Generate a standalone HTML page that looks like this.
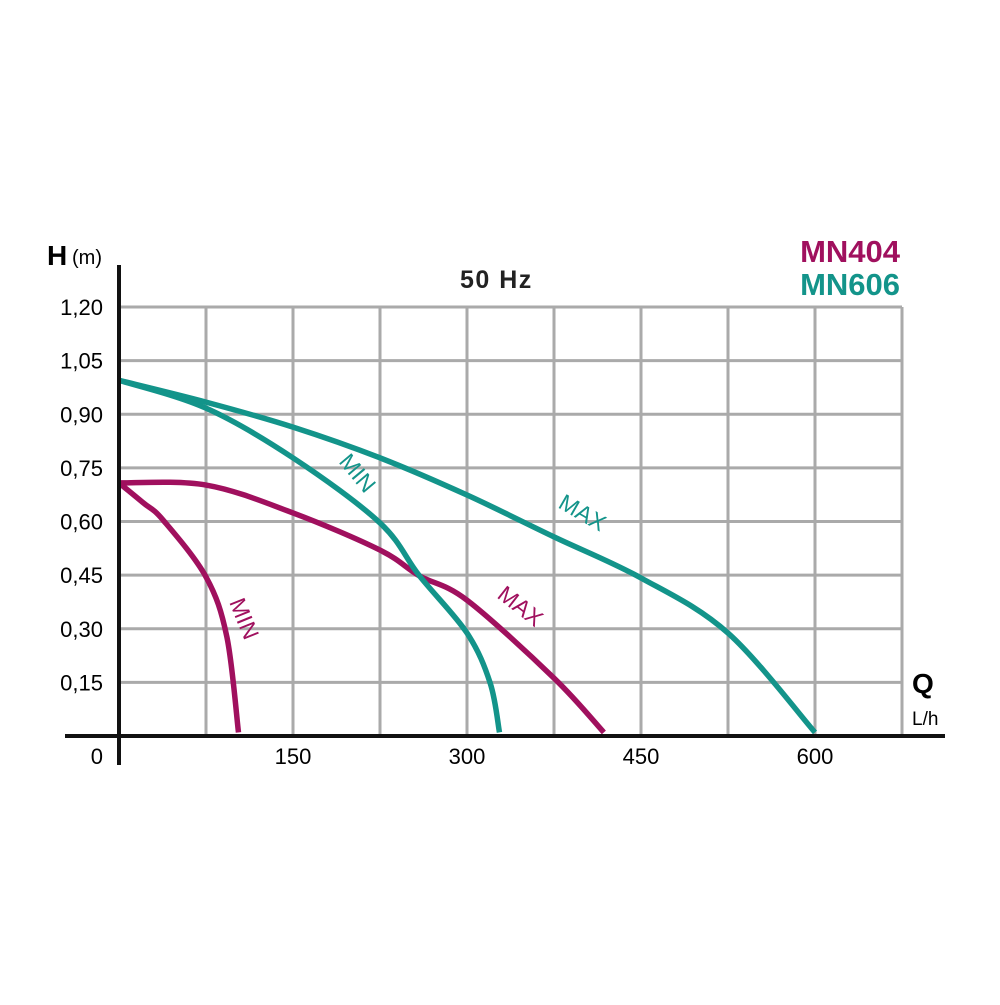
<!DOCTYPE html>
<html><head><meta charset="utf-8"><style>
body{margin:0;background:#fff}
svg text{font-family:"Liberation Sans",sans-serif}
</style></head><body>
<svg id="chart" width="1000" height="1000" viewBox="0 0 1000 1000">
<g id="grid"></g>
<g id="curves"></g>
<line x1="119" y1="265" x2="119" y2="765" stroke="#111" stroke-width="4"/>
<line x1="65" y1="736" x2="945" y2="736" stroke="#111" stroke-width="4"/>
<g id="ticks"></g>
<text x="47" y="265" font-size="28" font-weight="bold">H</text>
<text x="72" y="264" font-size="20">(m)</text>
<text x="912" y="693" font-size="28" font-weight="bold">Q</text>
<text x="912" y="725" font-size="19">L/h</text>
<text x="460" y="288" font-size="25" font-weight="bold" letter-spacing="1.5" fill="#222">50 Hz</text>
<text x="900" y="262" font-size="31" font-weight="bold" fill="#a0105e" text-anchor="end">MN404</text>
<text x="900" y="295" font-size="31" font-weight="bold" fill="#13948a" text-anchor="end">MN606</text>
<text x="0" y="0" font-size="23" fill="#13948a" transform="translate(338,462) rotate(50)">MIN</text>
<text x="0" y="0" font-size="23" fill="#13948a" transform="translate(557,507) rotate(30)">MAX</text>
<text x="0" y="0" font-size="23" fill="#a0105e" transform="translate(229,602) rotate(68)">MIN</text>
<text x="0" y="0" font-size="23" fill="#a0105e" transform="translate(496,597) rotate(38)">MAX</text>
</svg>
<script>
const xTicks=[150,300,450,600];
const yTicks=[0.15,0.30,0.45,0.60,0.75,0.90,1.05,1.20];
const q606max=[0,75,150,225,300,375,450,525,600];
const h606max=[0.995,0.934,0.864,0.778,0.674,0.557,0.442,0.288,0.01];
const q606min=[0,75,150,225,259,300,320,328];
const h606min=[0.995,0.917,0.778,0.596,0.448,0.288,0.148,0.01];
const q404max=[0,75,150,225,259,300,375,418];
const h404max=[0.708,0.702,0.624,0.52,0.448,0.38,0.162,0.01];
const q404min=[0,21,38,75,93,103];
const h404min=[0.708,0.652,0.604,0.445,0.277,0.01];
const X=q=>119+q*87/75, Y=h=>736-h*357.5;
const NS="http://www.w3.org/2000/svg";
const grid=document.getElementById('grid'),ticks=document.getElementById('ticks'),cv=document.getElementById('curves');
for(let i=1;i<=9;i++){const x=X(i*75);const l=document.createElementNS(NS,'line');
l.setAttribute('x1',x);l.setAttribute('x2',x);l.setAttribute('y1',Y(1.2));l.setAttribute('y2',736);
l.setAttribute('stroke','#aaa');l.setAttribute('stroke-width','3');


grid.appendChild(l);}
yTicks.forEach(h=>{const l=document.createElementNS(NS,'line');
l.setAttribute('x1',119);l.setAttribute('x2',X(675));l.setAttribute('y1',Y(h));l.setAttribute('y2',Y(h));
l.setAttribute('stroke','#aaa');l.setAttribute('stroke-width','3');


grid.appendChild(l);
const t=document.createElementNS(NS,'text');t.setAttribute('x',103);t.setAttribute('y',Y(h)+8);
t.setAttribute('text-anchor','end');t.setAttribute('font-size','22');t.textContent=h.toFixed(2).replace('.',',');


ticks.appendChild(t);});
xTicks.forEach(q=>{const t=document.createElementNS(NS,'text');t.setAttribute('x',X(q));t.setAttribute('y',764);
t.setAttribute('text-anchor','middle');t.setAttribute('font-size','22');t.textContent=q;


ticks.appendChild(t);});
const z=document.createElementNS(NS,'text');z.setAttribute('x',103);z.setAttribute('y',764);z.setAttribute('text-anchor','end');z.setAttribute('font-size','22');z.textContent='0';


ticks.appendChild(z);
function path(qs,hs){const p=qs.map((q,i)=>[X(q),Y(hs[i])]);let d='M'+p[0];
for(let i=0;i<p.length-1;i++){const a=p[i-1]||p[i],b=p[i],c=p[i+1],e=p[i+2]||c;
d+=' C'+(b[0]+(c[0]-a[0])/6)+','+(b[1]+(c[1]-a[1])/6)+' '+(c[0]-(e[0]-b[0])/6)+','+(c[1]-(e[1]-b[1])/6)+' '+c[0]+','+c[1];}return d;}
function draw(qs,hs,col,name){const p=document.createElementNS(NS,'path');p.setAttribute('d',path(qs,hs));
p.setAttribute('fill','none');p.setAttribute('stroke',col);p.setAttribute('stroke-width','5.5');p.setAttribute('stroke-linecap','butt');


cv.appendChild(p);}
draw(q404min,h404min,'#a0105e','curve-mn404-min');
draw(q404max,h404max,'#a0105e','curve-mn404-max');
draw(q606min,h606min,'#13948a','curve-mn606-min');
draw(q606max,h606max,'#13948a','curve-mn606-max');
</script>
</body></html>
